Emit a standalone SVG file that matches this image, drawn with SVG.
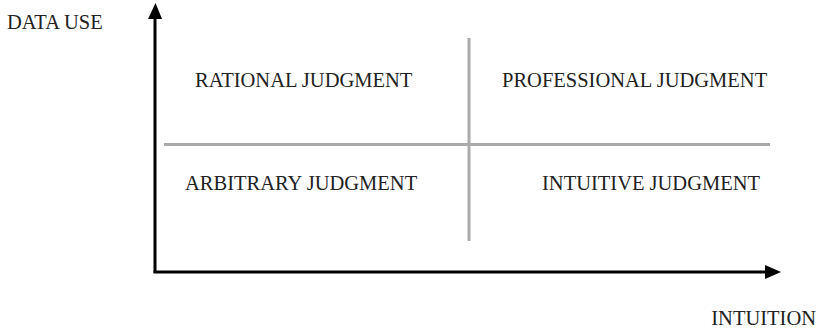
<svg xmlns="http://www.w3.org/2000/svg" width="819" height="329" viewBox="0 0 819 329">
<style>
text{font-family:"Liberation Serif","Times New Roman",serif;font-size:20.5px;fill:#222}
.axis{stroke:#000;stroke-width:3;fill:none}
.grid{stroke:#aaa;stroke-width:3;fill:none}
</style>
<rect width="819" height="329" fill="#fff"/>
<g id="connectors">
<line class="grid" x1="164" y1="144.5" x2="770" y2="144.5"/>
<line class="grid" x1="469" y1="38" x2="469" y2="241"/>
<path class="axis" d="M155,273 L155,19"/>
<path d="M148,19 L162,19 L155.5,3 Z" fill="#000"/>
<path class="axis" d="M153.5,272 L766,272"/>
<path d="M765,265 L765,279 L781,272 Z" fill="#000"/>
</g>
<g id="axis-y-label"><text x="7" y="29">DATA USE</text></g>
<g id="axis-x-label"><text x="816" y="325" text-anchor="end">INTUITION</text></g>
<g id="q-rational"><text x="195" y="87">RATIONAL JUDGMENT</text></g>
<g id="q-professional"><text x="502" y="87">PROFESSIONAL JUDGMENT</text></g>
<g id="q-arbitrary"><text x="185" y="190">ARBITRARY JUDGMENT</text></g>
<g id="q-intuitive"><text x="542" y="190">INTUITIVE JUDGMENT</text></g>
</svg>
